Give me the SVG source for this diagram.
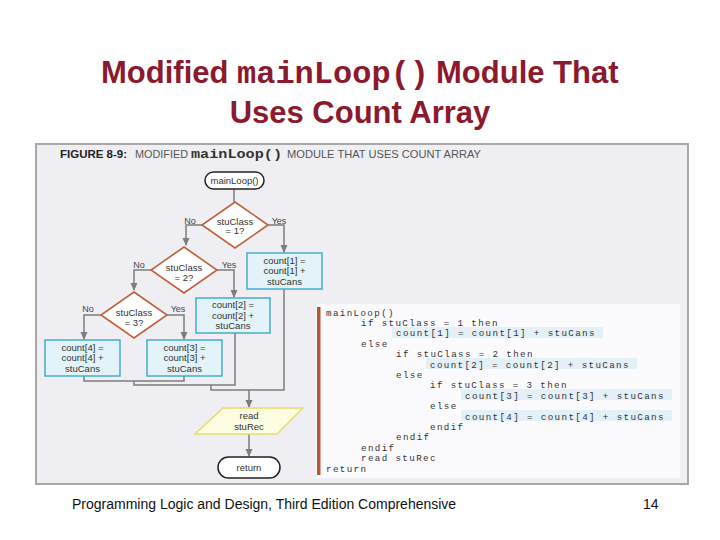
<svg xmlns="http://www.w3.org/2000/svg" width="720" height="540" viewBox="0 0 720 540">
<defs>
<marker id="ah" markerWidth="8" markerHeight="8" refX="7" refY="4" orient="auto" markerUnits="userSpaceOnUse">
<path d="M0,0.5 L8,4 L0,7.5 Z" fill="#7d7d7d"/>
</marker>
<style>
.title{font-family:"Liberation Sans",Arial,sans-serif;font-weight:bold;font-size:31px;fill:#8b1a2e}
.tmono{font-family:"Liberation Mono","Courier New",monospace;font-weight:bold;font-size:32px;fill:#8b1a2e}
.foot{font-family:"Liberation Sans",Arial,sans-serif;font-size:14px;fill:#111}
.hdr{font-family:"Liberation Sans",Arial,sans-serif;font-size:11px;fill:#555}
.hdrb{font-family:"Liberation Sans",Arial,sans-serif;font-size:11px;font-weight:bold;fill:#222}
.hdrm{font-family:"Liberation Mono","Courier New",monospace;font-size:13px;font-weight:bold;fill:#333}
.nt{font-family:"Liberation Sans",Arial,sans-serif;font-size:9.5px;fill:#333;text-anchor:middle}
.lb{font-family:"Liberation Sans",Arial,sans-serif;font-size:9px;fill:#444;text-anchor:middle}
.term{fill:#ffffff;stroke:#222;stroke-width:1.5}
.dia{fill:#ffffff;stroke:#c0603a;stroke-width:1.6}
.box{fill:#e2f3fa;stroke:#3aa8c8;stroke-width:1.4}
.io{fill:#fdfde2;stroke:#e6dc6a;stroke-width:1.4}
.con{fill:none;stroke:#7d7d7d;stroke-width:1.5}
.code{font-family:"Liberation Mono","Courier New",monospace;font-size:9.2px;letter-spacing:1.38px;fill:#333;white-space:pre}
.hl{fill:#e4f0f8}
</style>
</defs>
<rect width="720" height="540" fill="#ffffff"/>
<g id="title">
<text x="101" y="83" class="title">Modified</text>
<text x="237" y="83" class="tmono">mainLoop()</text>
<text x="436" y="83" class="title">Module That</text>
<text x="360" y="123" class="title" text-anchor="middle">Uses Count Array</text>
</g>
<g id="figure-frame">
<rect x="36" y="144" width="652" height="340" fill="#efeff3" stroke="#a8a8a8" stroke-width="2"/>
<text x="60" y="158" class="hdrb" textLength="67" lengthAdjust="spacingAndGlyphs">FIGURE 8-9:</text>
<text x="135" y="158" class="hdr" textLength="53" lengthAdjust="spacingAndGlyphs">MODIFIED</text>
<text x="191" y="158" class="hdrm" textLength="91" lengthAdjust="spacingAndGlyphs">mainLoop()</text>
<text x="287" y="158" class="hdr" textLength="194" lengthAdjust="spacingAndGlyphs">MODULE THAT USES COUNT ARRAY</text>
</g>
<g id="connectors">
<path class="con" d="M234,189 V202"/>
<path class="con" d="M202,225 H186 V245" marker-end="url(#ah)"/>
<path class="con" d="M268,225 H284 V252" marker-end="url(#ah)"/>
<path class="con" d="M151,270 H134 V290" marker-end="url(#ah)"/>
<path class="con" d="M217,270 H234 V297" marker-end="url(#ah)"/>
<path class="con" d="M101,315 H84 V339" marker-end="url(#ah)"/>
<path class="con" d="M167,315 H184 V339" marker-end="url(#ah)"/>
<path class="con" d="M84,376 V381 H184 V376"/>
<path class="con" d="M134,381 V385 H235 V333"/>
<path class="con" d="M211,385 V390 H284 V289"/>
<path class="con" d="M249,390 V407" marker-end="url(#ah)"/>
<path class="con" d="M249,434 V456" marker-end="url(#ah)"/>
</g>
<g id="start">
<rect x="205" y="172" width="59" height="17" rx="8.5" class="term"/>
<text x="234.5" y="184" class="nt">mainLoop()</text>
</g>
<g id="dec1">
<polygon points="235,202 268,225 235,248 202,225" class="dia"/>
<text x="235" y="224.5" class="nt">stuClass</text>
<text x="235" y="234" class="nt">= 1?</text>
<text x="190" y="224" class="lb">No</text>
<text x="279" y="224" class="lb">Yes</text>
</g>
<g id="box1">
<rect x="247" y="253" width="75" height="36" class="box"/>
<text x="284.5" y="263.5" class="nt">count[1] =</text>
<text x="284.5" y="274" class="nt">count[1] +</text>
<text x="284.5" y="284.5" class="nt">stuCans</text>
</g>
<g id="dec2">
<polygon points="184,247 217,270 184,293 151,270" class="dia"/>
<text x="184" y="271" class="nt">stuClass</text>
<text x="184" y="281" class="nt">= 2?</text>
<text x="139" y="268" class="lb">No</text>
<text x="229" y="268" class="lb">Yes</text>
</g>
<g id="box2">
<rect x="196" y="298" width="74" height="35" class="box"/>
<text x="233" y="307.5" class="nt">count[2] =</text>
<text x="233" y="318.5" class="nt">count[2] +</text>
<text x="233" y="329" class="nt">stuCans</text>
</g>
<g id="dec3">
<polygon points="134,292 167,315 134,338 101,315" class="dia"/>
<text x="134" y="315.5" class="nt">stuClass</text>
<text x="134" y="325.5" class="nt">= 3?</text>
<text x="88" y="312" class="lb">No</text>
<text x="178" y="312" class="lb">Yes</text>
</g>
<g id="box4">
<rect x="45" y="340" width="75" height="36" class="box"/>
<text x="82.5" y="350.5" class="nt">count[4] =</text>
<text x="82.5" y="361" class="nt">count[4] +</text>
<text x="82.5" y="371.5" class="nt">stuCans</text>
</g>
<g id="box3">
<rect x="147" y="340" width="75" height="36" class="box"/>
<text x="184.5" y="350.5" class="nt">count[3] =</text>
<text x="184.5" y="361" class="nt">count[3] +</text>
<text x="184.5" y="371.5" class="nt">stuCans</text>
</g>
<g id="read">
<polygon points="223,408 303,408 277,434 195,434" class="io"/>
<text x="249" y="419" class="nt">read</text>
<text x="249" y="430" class="nt">stuRec</text>
</g>
<g id="end">
<rect x="218" y="457" width="62" height="21" rx="10.5" class="term"/>
<text x="249" y="470.5" class="nt">return</text>
</g>
<g id="pseudocode">
<rect x="316" y="304" width="364" height="174" fill="#fbfbfd"/>
<rect x="317" y="307" width="3.5" height="168" fill="#b5553f"/>
<rect x="392" y="327" width="211" height="11" class="hl"/>
<rect x="426" y="358" width="211" height="11" class="hl"/>
<rect x="461" y="389" width="211" height="11" class="hl"/>
<rect x="461" y="410" width="211" height="11" class="hl"/>
<text x="326" y="315.5" class="code">mainLoop()</text>
<text x="361" y="326" class="code">if stuClass = 1 then</text>
<text x="396" y="336.3" class="code">count[1] = count[1] + stuCans</text>
<text x="361" y="346.7" class="code">else</text>
<text x="396" y="357" class="code">if stuClass = 2 then</text>
<text x="430" y="367.5" class="code">count[2] = count[2] + stuCans</text>
<text x="396" y="378" class="code">else</text>
<text x="430" y="388.3" class="code">if stuClass = 3 then</text>
<text x="465" y="398.7" class="code">count[3] = count[3] + stuCans</text>
<text x="430" y="409" class="code">else</text>
<text x="465" y="419.5" class="code">count[4] = count[4] + stuCans</text>
<text x="430" y="430" class="code">endif</text>
<text x="396" y="440.3" class="code">endif</text>
<text x="361" y="450.7" class="code">endif</text>
<text x="361" y="461" class="code">read stuRec</text>
<text x="326" y="471.5" class="code">return</text>
</g>
<g id="footer">
<text x="72" y="509" class="foot">Programming Logic and Design, Third Edition Comprehensive</text>
<text x="643" y="509" class="foot">14</text>
</g>
</svg>
